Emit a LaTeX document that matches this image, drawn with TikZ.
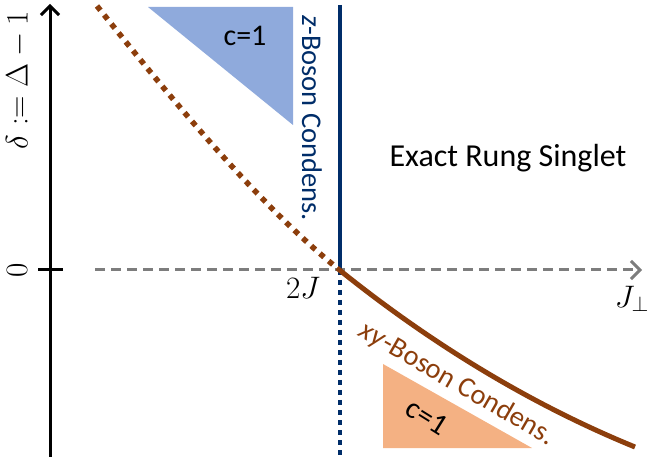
\documentclass[tikz,border=0pt]{standalone}
\usepackage{fontspec}
\setsansfont{Carlito}
\usetikzlibrary{arrows.meta}
\definecolor{navy}{RGB}{0,45,105}
\definecolor{brn}{RGB}{140,62,12}
\definecolor{lblue}{RGB}{143,170,220}
\definecolor{lorange}{RGB}{244,177,131}
\definecolor{gr}{RGB}{125,125,125}
\tikzset{
  lbl/.style={font=\sffamily\fontsize{28.5}{32}\selectfont, inner sep=0pt},
  mlbl/.style={font=\fontsize{26}{30}\selectfont, inner sep=0pt, scale=1.25},
  barb/.style={-{Straight Barb[length=9pt,width=18pt,line width=3pt]}}
}
\begin{document}
\begin{tikzpicture}[x=1pt,y=-1pt]
\useasboundingbox (0,0) rectangle (654,457);
% triangles
\fill[lblue] (148,7) -- (293,7) -- (293,125) -- cycle;
\fill[lorange] (383,364) -- (383,448) -- (532,448) -- cycle;
\node[lbl, font=\sffamily\fontsize{30}{34}\selectfont, text=black] (c1) at (245,36) {c=1};
\node[lbl, font=\sffamily\fontsize{30}{34}\selectfont, text=black, rotate=-32] (c2) at (427,417) {c=1};
% coordinates
\coordinate (ybot) at (50,457);
\coordinate (ytop) at (50,4);
\coordinate (tl) at (38,270);
\coordinate (tr) at (63,270);
\coordinate (xl) at (95,270);
\coordinate (xr) at (642,270);
\coordinate (btop) at (340,5);
\coordinate (bmid) at (340,270);
\coordinate (bbot) at (340,457);
\coordinate (ctop) at (97,6);
\coordinate (cmid) at (337,268);
\coordinate (cend) at (635,447);
% gray dashed axis
\draw[gr, line width=3pt, dash pattern=on 10pt off 6pt, barb] (xl) -- (xr);
% blue line
\draw[navy, line width=4pt] (btop) -- (bmid);
\draw[navy, line width=4pt, dash pattern=on 5pt off 5pt] (bmid) -- (bbot);
% brown curve
\draw[brn, line width=5.5pt, dash pattern=on 5.5pt off 6pt] (ctop) .. controls (180,110) and (260,205) .. (cmid);
\draw[brn, line width=5pt] (cmid) .. controls (420,335) and (520,400) .. (cend);
% vertical axis
\draw[black, line width=3pt, barb] (ybot) -- (ytop);
\draw[black, line width=3pt] (tl) -- (tr);
% labels
\node[mlbl, rotate=90] (zero) at (17,270) {$0$};
\node[mlbl, rotate=90] (delta) at (18,80) {$\delta \mathrel{:=} \Delta - 1$};
\node[mlbl] (twoj) at (303,288) {$2J$};
\node[mlbl] (jperp) at (632,299) {$J_\perp$};
\node[lbl, text=navy, rotate=-90] (zb) at (312,118) {\textit{z}-Boson Condens.};
\node[lbl, text=brn, rotate=-30] (xyb) at (457,384) {\textit{xy}-Boson Condens.};
\node[lbl, font=\sffamily\fontsize{32}{36}\selectfont, text=black] (ers) at (508,158) {Exact Rung Singlet};
\end{tikzpicture}
\end{document}
